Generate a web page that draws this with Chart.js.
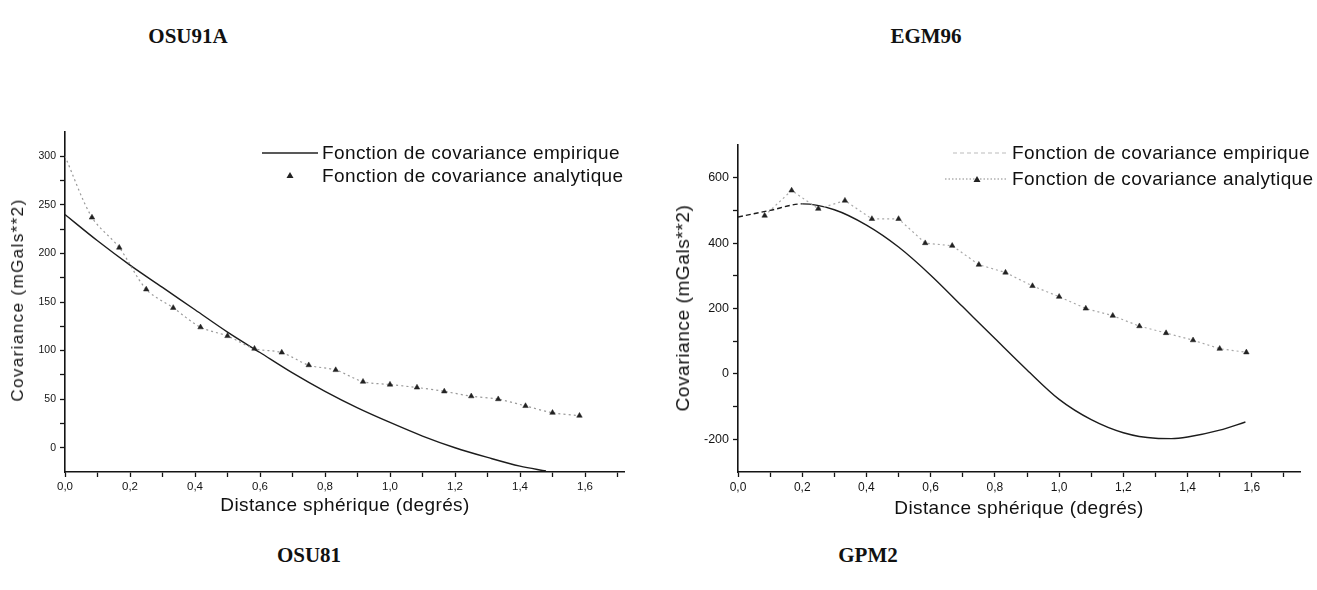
<!DOCTYPE html>
<html>
<head>
<meta charset="utf-8">
<script src="https://cdn.jsdelivr.net/npm/chart.js@4.4.0/dist/chart.umd.min.js"></script>
<style>
  body { margin:0; width:1317px; height:590px; background:#fff; position:relative; overflow:hidden;
         font-family:"Liberation Sans", Arial, sans-serif; color:#111; }
  .box { position:absolute; }
  .ttl { position:absolute; font-family:"Liberation Serif","Times New Roman",serif; font-weight:bold;
         font-size:21px; transform:translateX(-50%); white-space:nowrap; }
  .axt { position:absolute; white-space:nowrap; transform:translate(-50%,-50%); font-size:19px; letter-spacing:0.4px; }
  .axt.rot { transform:translate(-50%,-50%) rotate(-90deg); }
  .leg { position:absolute; font-size:19px; white-space:nowrap; line-height:23px; letter-spacing:0.4px; }
</style>
</head>
<body>
<div class="ttl" style="left:188px;top:24px">OSU91A</div>
<div class="ttl" style="left:926px;top:24px">EGM96</div>
<div class="ttl" style="left:309px;top:543px">OSU81</div>
<div class="ttl" style="left:868px;top:543px">GPM2</div>

<div class="box" style="left:0;top:110px;width:650px;height:420px"><canvas id="chOsu"></canvas></div>
<div class="box" style="left:660px;top:110px;width:657px;height:420px"><canvas id="chEgm"></canvas></div>

<div class="axt rot" style="left:18px;top:300px;font-size:17px;letter-spacing:1.4px">Covariance (mGals**2)</div>
<div class="axt rot" style="left:683px;top:308px;letter-spacing:0.6px">Covariance (mGals**2)</div>
<div class="axt" style="left:345px;top:505px">Distance sphérique (degrés)</div>
<div class="axt" style="left:1019px;top:508px">Distance sphérique (degrés)</div>

<!-- legends -->
<div class="leg" style="left:322px;top:141px">Fonction de covariance empirique</div>
<div class="leg" style="left:322px;top:164px">Fonction de covariance analytique</div>
<svg style="position:absolute;left:260px;top:146px" width="62" height="40">
  <line x1="2" y1="7" x2="58" y2="7" stroke="#222" stroke-width="1.3"/>
  <polygon points="30,26 26.5,32 33.5,32" fill="#222"/>
</svg>
<div class="leg" style="left:1012px;top:141px">Fonction de covariance empirique</div>
<div class="leg" style="left:1012px;top:167px">Fonction de covariance analytique</div>
<svg style="position:absolute;left:945px;top:146px" width="66" height="44">
  <line x1="8" y1="7" x2="62" y2="7" stroke="#bbb" stroke-width="1.2" stroke-dasharray="4 3"/>
  <line x1="0" y1="33" x2="62" y2="33" stroke="#888" stroke-width="1.2" stroke-dasharray="1.5 2"/>
  <polygon points="32,30 28.5,36 35.5,36" fill="#222"/>
</svg>

<script>
// OSU91A - empirical covariance (solid curve), degrees / mGal^2
const osuEmpX = [0, 0.1, 0.2, 0.3, 0.4, 0.5, 0.6, 0.7, 0.8, 0.9, 1.0, 1.1, 1.2, 1.3, 1.4, 1.48];
const osuEmpY = [240, 213, 188, 165, 142, 119, 98, 77, 58, 41, 26, 12, 0, -10, -19, -24];
// OSU91A - analytic covariance (triangles every 5')
const osuAnaX = [0, 0.083, 0.167, 0.25, 0.333, 0.417, 0.5, 0.583, 0.667, 0.75, 0.833,
                 0.917, 1.0, 1.083, 1.167, 1.25, 1.333, 1.417, 1.5, 1.583];
const osuAnaY = [300, 237, 206, 163, 144, 124, 115, 102, 98, 85, 80,
                 68, 65, 62, 58, 53, 50, 43, 36, 33];

// EGM96
const egmEmpX = [0, 0.1, 0.2, 0.3, 0.4, 0.5, 0.6, 0.7, 0.8, 0.9, 1.0, 1.1, 1.2, 1.3, 1.35, 1.4, 1.5, 1.58];
const egmEmpY = [480, 500, 520, 502, 455, 388, 302, 205, 108, 12, -78, -140, -180, -197, -198, -193, -172, -147];
const egmAnaX = [0.083, 0.167, 0.25, 0.333, 0.417, 0.5, 0.583, 0.667, 0.75, 0.833,
                 0.917, 1.0, 1.083, 1.167, 1.25, 1.333, 1.417, 1.5, 1.583];
const egmAnaY = [484, 561, 505, 530, 474, 474, 400, 392, 334, 310,
                 269, 236, 200, 178, 146, 125, 103, 77, 66];

const xTickLabels = ['0,0', '0,2', '0,4', '0,6', '0,8', '1,0', '1,2', '1,4', '1,6'];
const osuYLabels = [0, 50, 100, 150, 200, 250, 300];
const egmYLabels = [-200, 0, 200, 400, 600];

const INK = '#141414';
const pts = (xs, ys) => xs.map((x, i) => ({ x: x, y: ys[i] }));

function xScale(max, fontSize) {
  return {
    type: 'linear', min: 0, max: max,
    border: { color: INK, width: 1.6 },
    grid: { drawOnChartArea: false, tickLength: 5, tickColor: INK, tickWidth: 1.3 },
    ticks: {
      stepSize: 0.1, autoSkip: false, maxRotation: 0, includeBounds: false,
      color: INK, padding: 3, font: { size: fontSize, family: 'Liberation Sans' },
      callback: v => {
        const k = Math.round(v * 10);
        return k % 2 === 0 ? (xTickLabels[k / 2] || '') : '';
      }
    },
    afterFit: s => { s.height = 58; }
  };
}

function yScale(min, max, step, labels, width, fontSize) {
  return {
    type: 'linear', min: min, max: max,
    border: { color: INK, width: 1.6 },
    grid: {
      drawOnChartArea: false, tickLength: 5, tickWidth: 1.3,
      tickColor: c => (c.tick && (c.tick.value < labels[0] || c.tick.value > labels[labels.length - 1])) ? 'rgba(0,0,0,0)' : INK
    },
    ticks: {
      stepSize: step, autoSkip: false, includeBounds: false, color: INK, padding: 4,
      font: { size: fontSize, family: 'Liberation Sans' },
      callback: v => labels.indexOf(Math.round(v)) >= 0 ? String(Math.round(v)) : ''
    },
    afterFit: s => { s.width = width; }
  };
}

function baseOptions(pad, xs, ys) {
  return {
    responsive: true,
    maintainAspectRatio: false,
    animation: false,
    layout: { padding: pad },
    plugins: { legend: { display: false }, tooltip: { enabled: false } },
    scales: { x: xs, y: ys }
  };
}

new Chart(document.getElementById('chOsu'), {
  type: 'line',
  data: {
    datasets: [
      {
        label: 'Fonction de covariance analytique',
        data: pts(osuAnaX, osuAnaY),
        borderColor: '#9a9a9a', borderWidth: 1.2, borderDash: [2, 3],
        pointStyle: 'triangle', pointRadius: osuAnaX.map(x => x === 0 ? 0 : 3.2),
        pointBackgroundColor: '#222', pointBorderColor: '#222', pointBorderWidth: 0.5,
        tension: 0.3
      },
      {
        label: 'Fonction de covariance empirique',
        data: pts(osuEmpX, osuEmpY),
        borderColor: '#1c1c1c', borderWidth: 1.4, pointRadius: 0,
        tension: 0.4, cubicInterpolationMode: 'monotone'
      }
    ]
  },
  options: baseOptions({ top: 22, right: 26, left: 0, bottom: 0 },
    xScale(1.72, 11.5), yScale(-25, 325, 25, osuYLabels, 65, 10.5))
});

new Chart(document.getElementById('chEgm'), {
  type: 'line',
  data: {
    datasets: [
      {
        label: 'Fonction de covariance analytique',
        data: pts(egmAnaX, egmAnaY),
        borderColor: '#a8a8a8', borderWidth: 1.2, borderDash: [2, 3],
        pointStyle: 'triangle', pointRadius: 3.2,
        pointBackgroundColor: '#222', pointBorderColor: '#222', pointBorderWidth: 0.5,
        tension: 0
      },
      {
        label: 'Fonction de covariance empirique',
        data: pts(egmEmpX, egmEmpY),
        borderColor: '#1c1c1c', borderWidth: 1.4, pointRadius: 0,
        tension: 0.4, cubicInterpolationMode: 'monotone',
        segment: { borderDash: c => c.p0.parsed.x < 0.19 ? [5, 3] : undefined }
      }
    ]
  },
  options: baseOptions({ top: 35, right: 17, left: 0, bottom: 0 },
    xScale(1.75, 12), yScale(-300, 700, 100, egmYLabels, 78, 12.5))
});
</script>
</body>
</html>
